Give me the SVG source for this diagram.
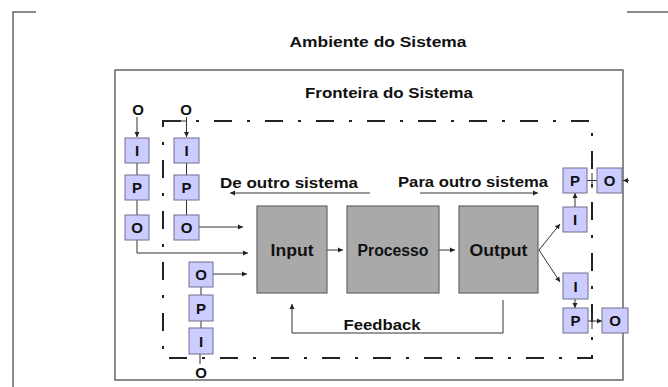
<svg xmlns="http://www.w3.org/2000/svg" width="668" height="387" viewBox="0 0 668 387">
<defs>
<marker id="ah" markerWidth="6" markerHeight="6" refX="5" refY="3" orient="auto" markerUnits="userSpaceOnUse">
<path d="M0,0.5 L5,3 L0,5.5 Z" fill="#222"/>
</marker>
<style>
text{font-family:"Liberation Sans",Arial,sans-serif;font-weight:bold;fill:#111}
.t{font-size:15px}
.s{font-size:15px;text-anchor:middle}
.big rect{fill:#a9a9a9;stroke:#666;stroke-width:1.2}
.big text{font-size:16px;text-anchor:middle}
.sm rect{fill:#ccccff;stroke:#6f6f8f;stroke-width:1}
.sm text{font-size:15px;text-anchor:middle}
.c{stroke:#333;stroke-width:1;fill:none}
.ca{stroke:#333;stroke-width:1;fill:none;marker-end:url(#ah)}
</style>
</defs>
<rect width="668" height="387" fill="#fff"/>
<g id="environment">
<path d="M13,387 V12 H36" fill="none" stroke="#666" stroke-width="1.5"/>
<path d="M627,12 H668" fill="none" stroke="#666" stroke-width="1.5"/>
<text class="t" x="378" y="47" text-anchor="middle" textLength="177" lengthAdjust="spacingAndGlyphs">Ambiente do Sistema</text>
</g>
<g id="fronteira">
<rect x="115" y="70" width="508" height="310" fill="none" stroke="#666" stroke-width="1.5"/>
<text class="t" x="389" y="98" text-anchor="middle" textLength="168" lengthAdjust="spacingAndGlyphs">Fronteira do Sistema</text>
</g>
<g id="boundary">
<path d="M163,121 H592 V358 H163 Z" fill="none" stroke="#222" stroke-width="2" stroke-dasharray="18,15,3,15"/>
</g>
<g id="connectors">
<path class="ca" d="M137,117 V137"/>
<path class="ca" d="M186.5,117 V137"/>
<path class="c" d="M163,121 H186.5"/>
<path class="c" d="M137,163 V175 M137,200 V215"/>
<path class="c" d="M186.5,163 V175 M186.5,200 V215"/>
<path class="ca" d="M137,240 V253 H248"/>
<path class="ca" d="M199,227 H243"/>
<path class="ca" d="M213,274 H247"/>
<path class="c" d="M201,287 V295 M201,321 V328"/>
<path class="ca" d="M200,364 V342"/>
<path class="ca" d="M370,193 H230"/>
<path class="ca" d="M420,193 H538"/>
<path class="ca" d="M327,250 H343"/>
<path class="ca" d="M439,250 H455"/>
<path class="ca" d="M539,250 L560,224"/>
<path class="ca" d="M539,250 L560,282"/>
<path class="ca" d="M575,207 V193"/>
<path class="c" d="M587,180.5 H597"/>
<path class="c" d="M592,173 V188" stroke-width="2"/>
<path class="ca" d="M629,180.5 H623"/>
<path class="ca" d="M575,299 V308"/>
<path class="ca" d="M588,321 H602"/>
<path class="c" d="M592,313 V329" stroke-width="2"/>
<path class="ca" d="M503,300 V333 H292 V304"/>
</g>
<g id="labels">
<text class="s" x="138" y="115">O</text>
<text class="s" x="186" y="115">O</text>
<text class="s" x="201" y="378">O</text>
<text class="t" x="220" y="188" textLength="138" lengthAdjust="spacingAndGlyphs">De outro sistema</text>
<text class="t" x="398" y="187" textLength="150" lengthAdjust="spacingAndGlyphs">Para outro sistema</text>
<text class="t" x="382" y="330" text-anchor="middle" textLength="77" lengthAdjust="spacingAndGlyphs">Feedback</text>
</g>
<g id="input" class="big"><rect x="257" y="206" width="70" height="87"/><text x="292" y="256" textLength="43" lengthAdjust="spacingAndGlyphs">Input</text></g>
<g id="processo" class="big"><rect x="347" y="206" width="92" height="87"/><text x="393" y="256" textLength="71" lengthAdjust="spacingAndGlyphs">Processo</text></g>
<g id="output" class="big"><rect x="459" y="206" width="79" height="87"/><text x="498.5" y="256" textLength="58" lengthAdjust="spacingAndGlyphs">Output</text></g>
<g id="c1-i" class="sm"><rect x="125" y="138" width="24" height="25"/><text x="137" y="156">I</text></g>
<g id="c1-p" class="sm"><rect x="125" y="175" width="24" height="25"/><text x="137" y="193">P</text></g>
<g id="c1-o" class="sm"><rect x="125" y="215" width="24" height="25"/><text x="137" y="233">O</text></g>
<g id="c2-i" class="sm"><rect x="174" y="138" width="25" height="25"/><text x="186.5" y="156">I</text></g>
<g id="c2-p" class="sm"><rect x="174" y="175" width="25" height="25"/><text x="186.5" y="193">P</text></g>
<g id="c2-o" class="sm"><rect x="174" y="215" width="25" height="25"/><text x="186.5" y="233">O</text></g>
<g id="b-o" class="sm"><rect x="189" y="262" width="24" height="25"/><text x="201" y="280">O</text></g>
<g id="b-p" class="sm"><rect x="189" y="295" width="24" height="26"/><text x="201" y="313.5">P</text></g>
<g id="b-i" class="sm"><rect x="189" y="328" width="24" height="26"/><text x="201" y="346.5">I</text></g>
<g id="rt-p" class="sm"><rect x="563" y="168" width="24" height="25"/><text x="575" y="186">P</text></g>
<g id="rt-o" class="sm"><rect x="597" y="168" width="25" height="25"/><text x="609.5" y="186">O</text></g>
<g id="rt-i" class="sm"><rect x="563" y="207" width="24" height="25"/><text x="575" y="225">I</text></g>
<g id="rb-i" class="sm"><rect x="563" y="273" width="25" height="26"/><text x="575.5" y="291.5">I</text></g>
<g id="rb-p" class="sm"><rect x="563" y="308" width="25" height="25"/><text x="575.5" y="326">P</text></g>
<g id="rb-o" class="sm"><rect x="602" y="308" width="26" height="25"/><text x="615" y="326">O</text></g>
</svg>
